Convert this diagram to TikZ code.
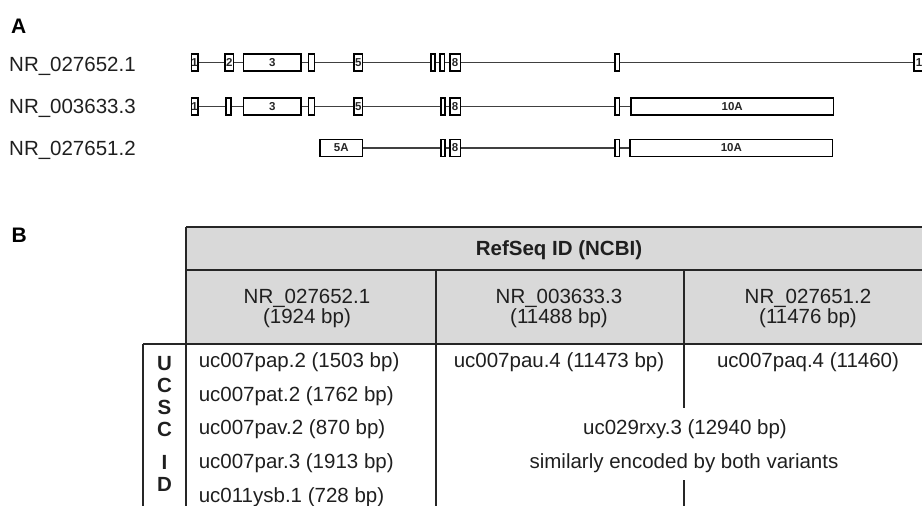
\documentclass[tikz,border=0pt]{standalone}
\usepackage{fontspec}
\setmainfont{Liberation Sans}
\begin{document}
\begin{tikzpicture}[x=1pt,y=-1pt,
  exon/.style={draw=black, line width=1.5pt, fill=white, minimum height=17pt, inner sep=0pt,
    font=\fontsize{11.5}{12}\selectfont\bfseries, text=black!85},
  intron/.style={draw=black!75, line width=1.2pt},
  lbl/.style={font=\fontsize{20.5}{24}\selectfont, text=black!88, inner sep=0pt},
  hdr/.style={font=\fontsize{20.5}{20}\selectfont, text=black!88, inner sep=0pt, align=center},
  panel/.style={font=\fontsize{21}{24}\selectfont\bfseries, text=black, inner sep=0pt},
  grid/.style={draw=black!85, line width=1.5pt}]
\useasboundingbox (0,0) rectangle (922,506);
\clip (0,0) rectangle (922,506);

% ---------------- Panel A ----------------
\node[panel, anchor=base west] (labA) at (11,33.3) {A};
\node[lbl, anchor=base west] (tA1) at (9,71.7) {NR\_027652.1};
\node[lbl, anchor=base west] (tA2) at (9,113.3) {NR\_003633.3};
\node[lbl, anchor=base west] (tA3) at (9,155) {NR\_027651.2};

% row 1
\node[exon, minimum width=5.8pt]  (a1)  at (194.65,62.5) {1};
\node[exon, minimum width=8.5pt]  (a2)  at (229.3,62.5)  {2};
\node[exon, minimum width=57.5pt] (a3)  at (272.2,62.5)  {3};
\node[exon, minimum width=5.8pt]  (a4)  at (311.35,62.5) {};
\node[exon, minimum width=8.5pt]  (a5)  at (358.3,62.5)  {5};
\node[exon, minimum width=4.2pt]  (a6)  at (432.85,62.5) {};
\node[exon, minimum width=4.2pt]  (a7)  at (442.15,62.5) {};
\node[exon, minimum width=10.2pt] (a8)  at (455.15,62.5) {8};
\node[exon, minimum width=4.2pt]  (a9)  at (617.15,62.5) {};
\node[exon, minimum width=16.2pt] (a10) at (922.15,62.5) {10};
\foreach \p/\q in {a1/a2,a2/a3,a3/a4,a4/a5,a5/a6,a6/a7,a7/a8,a8/a9,a9/a10}
  \draw[intron] (\p) -- (\q);

% row 2
\node[exon, minimum width=5.8pt]   (b1)  at (194.65,106.7) {1};
\node[exon, minimum width=5.2pt]   (b2)  at (228.35,106.7) {};
\node[exon, minimum width=57.5pt]  (b3)  at (272.2,106.7)  {3};
\node[exon, minimum width=5.8pt]   (b4)  at (311.35,106.7) {};
\node[exon, minimum width=8.5pt]   (b5)  at (358.3,106.7)  {5};
\node[exon, minimum width=4.2pt]   (b7)  at (442.85,106.7) {};
\node[exon, minimum width=10.2pt]  (b8)  at (455.15,106.7) {8};
\node[exon, minimum width=4.2pt]   (b9)  at (617.15,106.7) {};
\node[exon, minimum width=202.8pt] (b10) at (732.15,106.7) {10A};
\foreach \p/\q in {b1/b2,b2/b3,b3/b4,b4/b5,b5/b7,b7/b8,b8/b9,b9/b10}
  \draw[intron] (\p) -- (\q);

% row 3
\node[exon, minimum width=42.5pt]  (c5)  at (341.3,148)  {5A};
\node[exon, minimum width=4.2pt]   (c7)  at (442.85,148) {};
\node[exon, minimum width=10.2pt]  (c8)  at (455.15,148) {8};
\node[exon, minimum width=4.2pt]   (c9)  at (617.15,148) {};
\node[exon, minimum width=202.5pt] (c10) at (731.3,148)  {10A};
\foreach \p/\q in {c5/c7,c7/c8,c8/c9,c9/c10}
  \draw[intron] (\p) -- (\q);

% ---------------- Panel B ----------------
\node[panel, anchor=base west] (labB) at (11.5,242.3) {B};

\fill[gray!30] (186,227) rectangle (934,344);
\draw[grid] (186,227) -- (934,227);
\draw[grid] (186,270) -- (934,270);
\draw[grid] (143,344) -- (934,344);
\draw[grid] (186,227) -- (186,510);
\draw[grid] (143,344) -- (143,510);
\draw[grid] (436,270) -- (436,510);
\draw[grid] (684,270) -- (684,408);
\draw[grid] (684,480) -- (684,510);

\node[lbl, font=\fontsize{20.5}{24}\selectfont\bfseries, anchor=base] (refseq) at (559,255) {RefSeq ID (NCBI)};
\node[hdr] (h1) at (307,308.1) {NR\_027652.1\\(1924 bp)};
\node[hdr] (h2) at (559,308.1) {NR\_003633.3\\(11488 bp)};
\node[hdr] (h3) at (808,308.1) {NR\_027651.2\\(11476 bp)};

\node[font=\fontsize{20.5}{22}\selectfont\bfseries, text=black!88, inner sep=0pt, align=center]
  (ucsc) at (164.5,424) {U\\C\\S\\C\\[11pt]I\\D};

\node[lbl, anchor=base west] (u1) at (198.6,367.3) {uc007pap.2 (1503 bp)};
\node[lbl, anchor=base west] (u2) at (198.6,401.0) {uc007pat.2 (1762 bp)};
\node[lbl, anchor=base west] (u3) at (198.6,434.7) {uc007pav.2 (870 bp)};
\node[lbl, anchor=base west] (u4) at (198.6,468.4) {uc007par.3 (1913 bp)};
\node[lbl, anchor=base west] (u5) at (198.6,502.1) {uc011ysb.1 (728 bp)};

\node[lbl, anchor=base] (v1) at (559,367.3) {uc007pau.4 (11473 bp)};
\node[lbl, anchor=base] (w1) at (808,367.3) {uc007paq.4 (11460)};
\node[lbl, anchor=base] (x1) at (685,434.7) {uc029rxy.3 (12940 bp)};
\node[lbl, anchor=base] (x2) at (684,468.4) {similarly encoded by both variants};
\end{tikzpicture}
\end{document}
